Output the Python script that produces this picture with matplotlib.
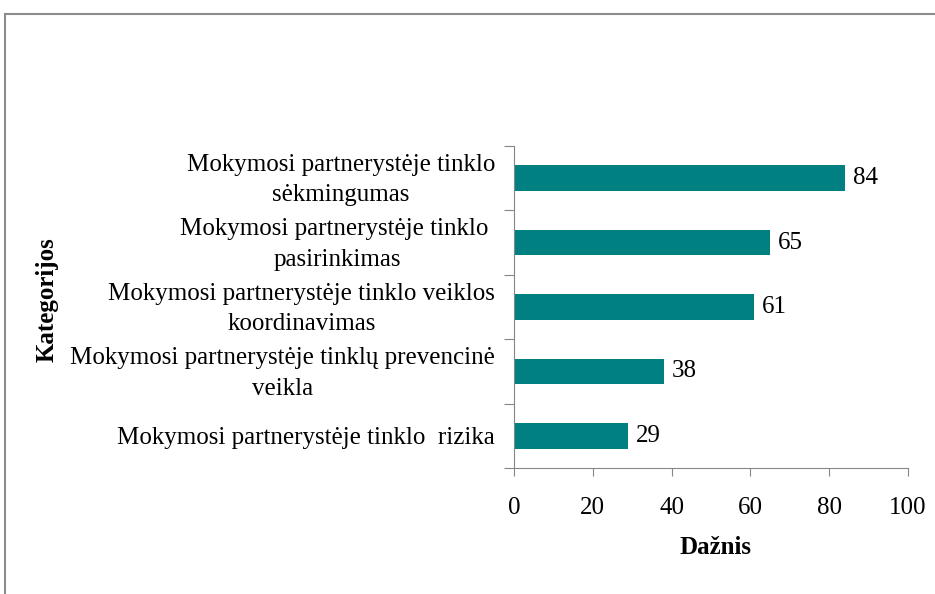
import matplotlib.pyplot as plt
import matplotlib.patches as patches

categories = [
    'Mokymosi partnerystėje tinklo  rizika',
    'Mokymosi partnerystėje tinklų prevencinė\nveikla',
    'Mokymosi partnerystėje tinklo veiklos\nkoordinavimas',
    'Mokymosi partnerystėje tinklo \npasirinkimas',
    'Mokymosi partnerystėje tinklo\nsėkmingumas',
]
values = [29, 38, 61, 65, 84]
x_ticks = [0, 20, 40, 60, 80, 100]

BAR_COLOR = '#008080'
AXIS_COLOR = '#868686'

plt.rcParams['font.family'] = ['Liberation Serif', 'DejaVu Serif']

fig = plt.figure(figsize=(9.35, 5.94), dpi=100)
ax = fig.add_axes([514 / 935, 1 - 468 / 594, (908 - 514) / 935, (468 - 146) / 594])

pos = list(range(len(categories)))
ax.barh(pos, values, height=0.4, color=BAR_COLOR)
for p, v in zip(pos, values):
    ax.text(v + 2, p, str(v), va='center', ha='left', fontsize=18)

ax.set_xlim(0, 100)
ax.set_ylim(-0.5, len(categories) - 0.5)
ax.set_xticks(x_ticks)
ax.tick_params(axis='x', labelsize=18, length=6, color=AXIS_COLOR, pad=15)

# y ticks at category boundaries, labels centered on bars
ax.set_yticks([i - 0.5 for i in range(len(categories) + 1)])
ax.set_yticklabels([])
ax.tick_params(axis='y', length=7, color=AXIS_COLOR)
for p, lab in zip(pos, categories):
    ax.text(-19 / 394, p - 0.03, lab, transform=ax.get_yaxis_transform(), ha='right',
            va='center', fontsize=18, multialignment='center',
            linespacing=1.5)

for s in ['top', 'right']:
    ax.spines[s].set_visible(False)
for s in ['left', 'bottom']:
    ax.spines[s].set_color(AXIS_COLOR)

fig.text(716 / 935, 1 - 548 / 594, 'Dažnis', ha='center', va='center',
         fontsize=18, fontweight='bold')
fig.text(47 / 935, 1 - 300 / 594, 'Kategorijos', ha='center', va='center',
         fontsize=18, fontweight='bold', rotation=90)

# outer frame (top and left visible)
fig.add_artist(patches.Rectangle((5 / 935, -0.1), 1.0, 1 - 14 / 594 + 0.1,
                                 transform=fig.transFigure, fill=False,
                                 edgecolor='#8c8c8c', linewidth=1.5))

fig.savefig('out.png', dpi=100)
